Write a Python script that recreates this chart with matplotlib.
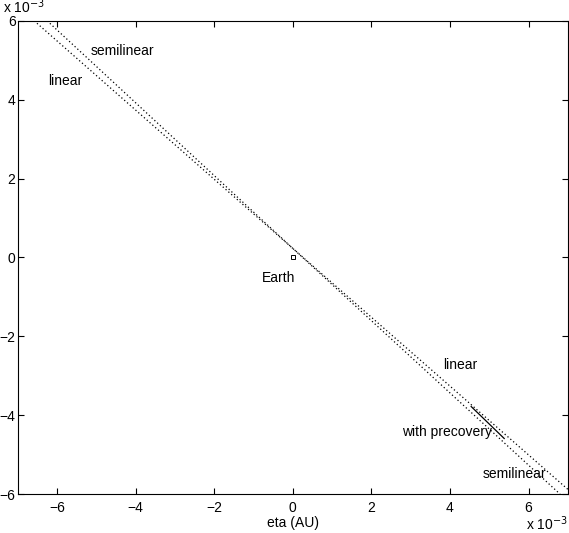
import matplotlib.pyplot as plt

plt.rcParams['font.family'] = ['Liberation Sans', 'DejaVu Sans']

# ============================
# Datos (en unidades de 1e-3 AU)
# ============================
linear_x = [-6.58, 0.0, 7.0]
linear_y = [6.0, 0.23, -5.88]

semilinear_x = [-6.25, 0.0, 6.80]
semilinear_y = [6.0, 0.23, -6.0]

precovery_x = [4.54, 5.38]
precovery_y = [-3.78, -4.59]

earth_x = [0.0]
earth_y = [0.0]

ticks = [-6, -4, -2, 0, 2, 4, 6]

scale = 1e-3

# ============================
# Figura
# ============================
fig = plt.figure(figsize=(5.69, 5.33), dpi=100)
ax = fig.add_axes([0.031, 0.073, 0.967, 0.888])

ax.plot([v * scale for v in linear_x], [v * scale for v in linear_y],
        color="black", linestyle=(0, (1, 2)), linewidth=0.9)
ax.plot([v * scale for v in semilinear_x], [v * scale for v in semilinear_y],
        color="black", linestyle=(0, (1, 2)), linewidth=0.9)
ax.plot([v * scale for v in precovery_x], [v * scale for v in precovery_y],
        color="black", linestyle="-", linewidth=0.9)
ax.plot([v * scale for v in earth_x], [v * scale for v in earth_y],
        marker="s", markersize=3, markerfacecolor="none",
        markeredgecolor="black", markeredgewidth=0.7, linestyle="none")

# Etiquetas dentro del grafico
fs = 10
ax.text(-5.13e-3, 5.23e-3, "semilinear", fontsize=fs, va="center", ha="left")
ax.text(-6.22e-3, 4.47e-3, "linear", fontsize=fs, va="center", ha="left")
ax.text(-0.35e-3, -0.53e-3, "Earth", fontsize=fs, va="center", ha="center")
ax.text(3.83e-3, -2.72e-3, "linear", fontsize=fs, va="center", ha="left")
ax.text(2.78e-3, -4.42e-3, "with precovery", fontsize=fs, va="center", ha="left")
ax.text(4.82e-3, -5.48e-3, "semilinear", fontsize=fs, va="center", ha="left")

ax.set_xlim(-7e-3, 7e-3)
ax.set_ylim(-6e-3, 6e-3)
ax.set_xticks([t * scale for t in ticks])
ax.set_yticks([t * scale for t in ticks])
ax.set_xticklabels(["\u2212" + str(-t) if t < 0 else str(t) for t in ticks])
ax.set_yticklabels(["\u2212" + str(-t) if t < 0 else str(t) for t in ticks])
ax.tick_params(direction="in", top=True, right=True, length=4,
               labelsize=fs, pad=1.5)
ax.tick_params(axis="x", pad=5)
for s in ax.spines.values():
    s.set_linewidth(0.8)

ax.set_xlabel("eta (AU)", fontsize=fs, labelpad=1)

# Factores de escala estilo MATLAB
fig.text(0.005, 0.976, r"x 10$^{-3}$", fontsize=fs, va="baseline", ha="left")
fig.text(0.998, 0.006, r"x 10$^{-3}$", fontsize=fs, va="baseline", ha="right")

fig.savefig("out.png", dpi=100)
